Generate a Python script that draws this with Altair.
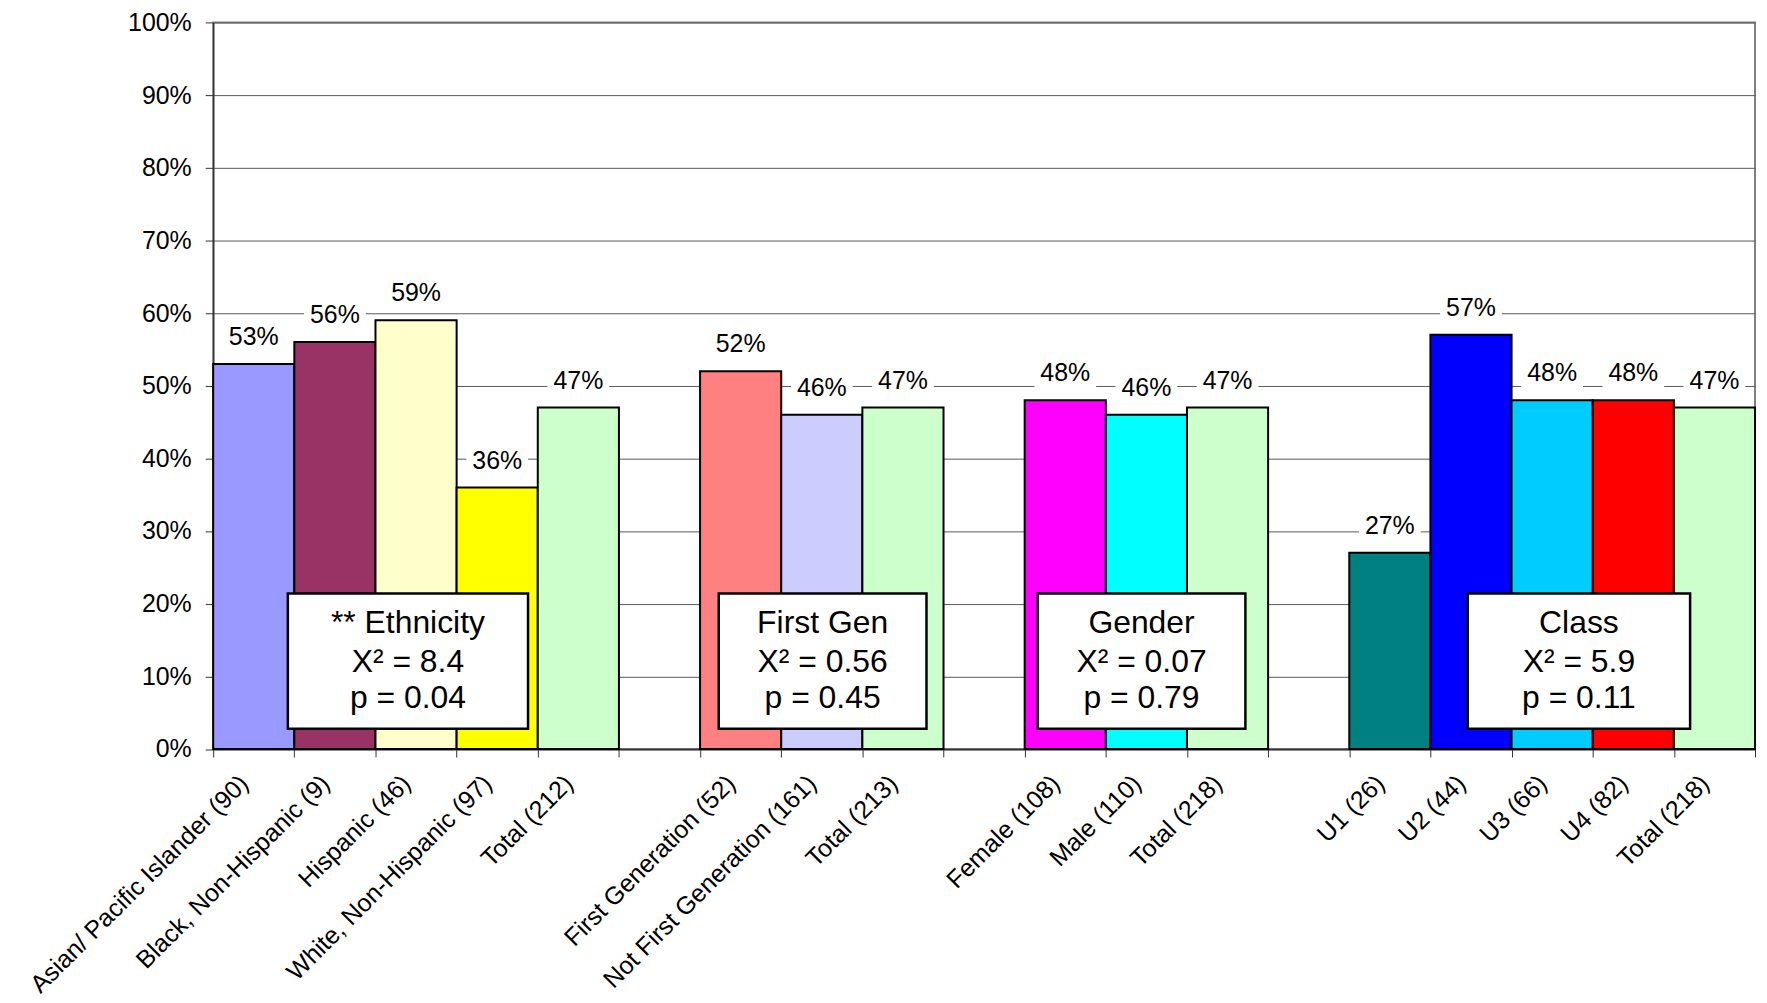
import json
import altair as alt
import pandas as pd

FONT = "Liberation Sans"

# ---------------- data ----------------
categories = [
    "Asian/ Pacific Islander (90)", "Black, Non-Hispanic (9)", "Hispanic (46)",
    "White, Non-Hispanic (97)", "Total (212)", "",
    "First Generation (52)", "Not First Generation (161)", "Total (213)", "",
    "Female (108)", "Male (110)", "Total (218)", "",
    "U1 (26)", "U2 (44)", "U3 (66)", "U4 (82)", "Total (218)",
]
percent = [53, 56, 59, 36, 47, None, 52, 46, 47, None, 48, 46, 47, None, 27, 57, 48, 48, 47]
bar_colors = [
    "#9999FF", "#993366", "#FFFFCC", "#FFFF00", "#CCFFCC", None,
    "#FF8080", "#CCCCFF", "#CCFFCC", None,
    "#FF00FF", "#00FFFF", "#CCFFCC", None,
    "#008080", "#0000FF", "#00CCFF", "#FF0000", "#CCFFCC",
]

box_titles = ["** Ethnicity", "First Gen", "Gender", "Class"]
box_chi = ["X\u00b2 = 8.4", "X\u00b2 = 0.56", "X\u00b2 = 0.07", "X\u00b2 = 5.9"]
box_p = ["p = 0.04", "p = 0.45", "p = 0.79", "p = 0.11"]

# annotation layout (x in category-slot units, y in percent units)
box_left = [0.92, 6.23, 10.16, 15.46]
box_right = [3.88, 8.79, 12.72, 18.20]
box_bottom, box_top = 2.8, 21.4
line_base = [15.9, 10.6, 5.6]

# ---------------- tables ----------------
n = len(categories)
slots = list(range(n))
bars = pd.DataFrame({
    "slot": slots,
    "s0": slots,
    "s1": [s + 1 for s in slots],
    "sc": [s + 0.5 for s in slots],
    "value": percent,
    "color": bar_colors,
    "label": [f"{v}%" if v is not None else None for v in percent],
})
bars = bars.dropna(subset=["value"])

boxes = pd.DataFrame({
    "x0": box_left,
    "x1": box_right,
    "xc": [(a + b) / 2 for a, b in zip(box_left, box_right)],
    "y0": [box_bottom] * 4,
    "y1": [box_top] * 4,
    "l0": [line_base[0]] * 4,
    "l1": [line_base[1]] * 4,
    "l2": [line_base[2]] * 4,
    "title": box_titles,
    "chi": box_chi,
    "p": box_p,
})

# ---------------- scales / axes ----------------
W, H = 1548, 729.5
AX = "#333333"
half_slot = W / n / 2

XS = alt.Scale(domain=[0, n], nice=False, zero=False)
YS = alt.Scale(domain=[0, 100], nice=False, zero=True)
X_AXIS = alt.Axis(
    title=None,
    values=list(range(n + 1)),
    labelExpr=f"datum.value < {n} ? " + json.dumps(categories) + "[datum.value] : ''",
    labelAngle=315, labelAlign="right", labelBaseline="middle",
    labelPadding=22, labelOffset=half_slot - 10, labelFlush=False,
    labelFontSize=25, labelFont=FONT, labelColor="black",
    labelOverlap=False, labelLimit=600,
    tickSize=8, tickColor=AX, tickWidth=1,
    domainColor=AX, domainWidth=1.5, grid=False,
)
Y_AXIS = alt.Axis(
    title=None,
    values=list(range(0, 101, 10)),
    labelExpr="datum.value + '%'",
    tickSize=8, tickColor=AX, tickWidth=1, labelFlush=False,
    labelPadding=14, labelFontSize=25, labelFont=FONT, labelColor="black",
    grid=True, gridColor="#595959", gridWidth=1,
    domainColor=AX, domainWidth=1.5,
)

def X(f):
    return alt.X(f"{f}:Q", scale=XS, axis=X_AXIS)

def Y(f):
    return alt.Y(f"{f}:Q", scale=YS, axis=Y_AXIS)

# ---------------- layers ----------------
base = alt.Chart(bars)
label_bg = base.mark_point(
    shape="M-1,-0.55L1,-0.55L1,0.55L-1,0.55Z", size=3844, filled=True,
    color="white", opacity=1, strokeWidth=0, yOffset=-28,
).encode(x=X("sc"), y=Y("value"))
bar_layer = base.mark_rect(stroke="black", strokeWidth=2).encode(
    x=X("s0"), x2="s1:Q", y=Y("value"), y2=alt.datum(0),
    fill=alt.Fill("color:N", scale=None),
)
val_text = base.mark_text(
    font=FONT, fontSize=25, color="black", baseline="alphabetic", dy=-19
).encode(x=X("sc"), y=Y("value"), text="label:N")

ab = alt.Chart(boxes)
box_rect = ab.mark_rect(fill="white", stroke="black", strokeWidth=2.5).encode(
    x=X("x0"), x2="x1:Q", y=Y("y0"), y2="y1:Q",
)

def box_line(ycol, tcol):
    return ab.mark_text(
        font=FONT, fontSize=32, color="black", baseline="alphabetic", align="center"
    ).encode(x=X("xc"), y=Y(ycol), text=f"{tcol}:N")

chart = (
    alt.layer(
        label_bg, bar_layer, val_text,
        box_rect, box_line("l0", "title"), box_line("l1", "chi"), box_line("l2", "p"),
    )
    .properties(
        width=W, height=H,
        autosize=alt.AutoSizeParams(type="none"),
        padding={"left": 206, "top": 12.5, "right": 4, "bottom": 245},
    )
    .configure_view(stroke="#808080", strokeWidth=2)
)

chart.save("out.html", embed_options={"renderer": "svg", "actions": False})
